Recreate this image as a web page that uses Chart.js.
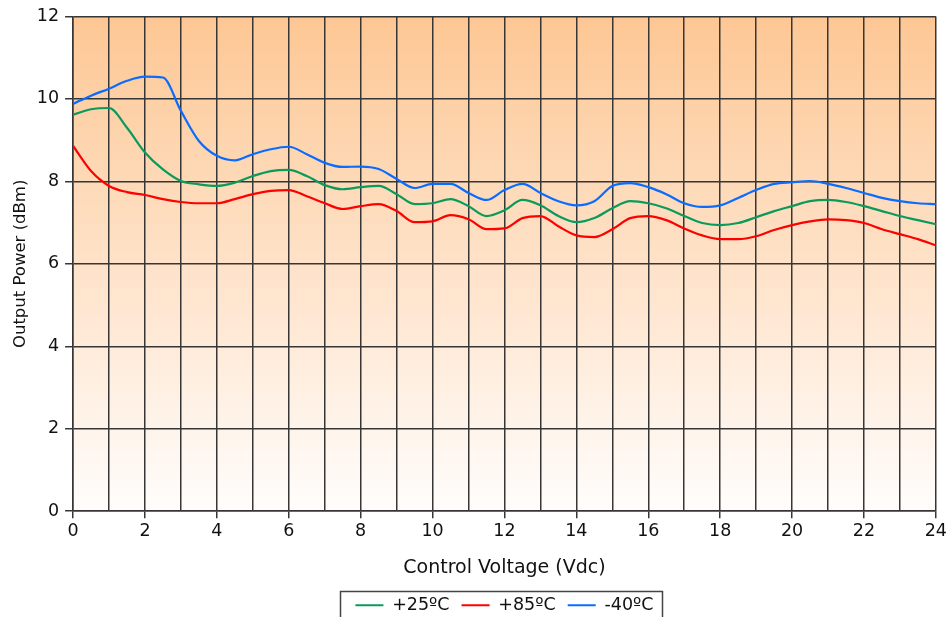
<!DOCTYPE html>
<html>
<head>
<meta charset="utf-8">
<script src="https://cdn.jsdelivr.net/npm/chart.js@4/dist/chart.umd.min.js"></script>
<style>
  html, body { margin: 0; padding: 0; background: #fff; }
  #wrap { width: 950px; height: 617px; }
</style>
</head>
<body>
<div id="wrap"><canvas id="myChart" width="950" height="617"></canvas></div>
<script>
// Control voltage samples (Vdc)
const volts = [0, 0.5, 1, 1.5, 2, 2.5, 3, 3.5, 4, 4.5, 5, 5.5, 6, 6.5, 7, 7.5, 8, 8.5, 9, 9.5, 10, 10.5, 11, 11.5, 12,
  12.5, 13, 13.5, 14, 14.5, 15, 15.5, 16, 16.5, 17, 17.5, 18, 18.5, 19, 19.5, 20, 20.5, 21, 21.5, 22, 22.5, 23, 23.5, 24];

// Output power (dBm) per temperature
const p25 = [9.62, 9.75, 9.78, 9.30, 8.70, 8.29, 8.01, 7.93, 7.89, 7.97, 8.13, 8.25, 8.28, 8.13, 7.91, 7.81, 7.86, 7.89, 7.69, 7.45, 7.47,
  7.57, 7.40, 7.16, 7.30, 7.55, 7.42, 7.16, 7.01, 7.11, 7.35, 7.52, 7.47, 7.35, 7.16, 6.99, 6.94, 6.99, 7.13, 7.28, 7.40,
  7.52, 7.55, 7.50, 7.40, 7.28, 7.16, 7.06, 6.96];
const p85 = [8.86, 8.25, 7.89, 7.74, 7.67, 7.57, 7.50, 7.47, 7.47, 7.57, 7.69, 7.77, 7.79, 7.64, 7.47, 7.33, 7.40, 7.45, 7.28, 7.01, 7.03,
  7.18, 7.08, 6.84, 6.86, 7.11, 7.16, 6.91, 6.69, 6.65, 6.84, 7.11, 7.16, 7.06, 6.86, 6.69, 6.60, 6.60, 6.67, 6.82, 6.94,
  7.03, 7.08, 7.06, 6.99, 6.84, 6.72, 6.60, 6.45];
const pm40 = [9.88, 10.08, 10.25, 10.44, 10.54, 10.52, 9.71, 8.98, 8.62, 8.51, 8.66, 8.78, 8.84, 8.66, 8.45, 8.35, 8.36, 8.30, 8.06, 7.84, 7.94,
  7.94, 7.72, 7.55, 7.79, 7.94, 7.72, 7.52, 7.42, 7.52, 7.89, 7.96, 7.86, 7.69, 7.47, 7.38, 7.42, 7.60, 7.79, 7.94, 7.98,
  8.01, 7.94, 7.84, 7.72, 7.60, 7.52, 7.47, 7.45];

const seriesNames = ['+25ºC', '+85ºC', '-40ºC'];
const seriesColors = ['#0a9a5c', '#ff0000', '#0a6cff'];

const toPoints = arr => arr.map((v, i) => ({ x: volts[i], y: v }));

const fam = 'DejaVu Sans';
const gridColor = '#363636';

// orange-to-white fill behind the plot
const plotBackground = {
  id: 'plotBackground',
  beforeDraw(chart) {
    const { ctx, chartArea: a } = chart;
    const g = ctx.createLinearGradient(0, a.top, 0, a.bottom);
    g.addColorStop(0, 'rgb(253,199,148)');
    g.addColorStop(1, 'rgb(255,253,252)');
    ctx.save();
    ctx.fillStyle = g;
    ctx.fillRect(a.left, a.top, a.right - a.left, a.bottom - a.top);
    ctx.restore();
  }
};

// frame around the legend
const legendFrame = {
  id: 'legendFrame',
  afterDraw(chart) {
    const lg = chart.legend;
    if (!lg || !lg.legendHitBoxes.length) return;
    const hb = lg.legendHitBoxes;
    const first = hb[0], last = hb[hb.length - 1];
    const left = Math.round(first.left - 15) + 0.5;
    const right = Math.round(last.left + last.width + 8) + 0.5;
    const top = Math.round(first.top + first.height / 2 - 14) + 0.5;
    const ctx = chart.ctx;
    ctx.save();
    ctx.strokeStyle = '#444';
    ctx.lineWidth = 1.5;
    ctx.strokeRect(left, top, right - left, 40);
    ctx.restore();
  }
};

new Chart(document.getElementById('myChart').getContext('2d'), {
  type: 'line',
  data: {
    datasets: seriesNames.map((name, i) => ({
      label: name,
      data: toPoints([p25, p85, pm40][i]),
      borderColor: seriesColors[i],
      backgroundColor: seriesColors[i],
      borderWidth: 2.2
    }))
  },
  options: {
    responsive: false,
    animation: false,
    layout: { padding: { top: 0, right: 0, left: 11, bottom: -7 } },
    elements: {
      line: { tension: 0.4, cubicInterpolationMode: 'monotone' },
      point: { radius: 0 }
    },
    plugins: {
      tooltip: { enabled: false },
      legend: {
        position: 'bottom',
        fullSize: false,
        labels: {
          font: { family: fam, size: 17.5 },
          color: '#111',
          usePointStyle: true,
          pointStyle: 'line',
          pointStyleWidth: 28,
          padding: 12,
          boxHeight: 2
        }
      }
    },
    scales: {
      x: {
        type: 'linear',
        min: 0,
        max: 24,
        title: { display: true, text: 'Control Voltage (Vdc)', font: { family: fam, size: 19 }, color: '#111', padding: { top: 11.5, bottom: 5 } },
        ticks: {
          stepSize: 1,
          autoSkip: false,
          maxRotation: 0,
          padding: 3,
          font: { family: fam, size: 17.5 },
          color: '#111',
          callback: v => (v % 2 === 0 ? String(v) : '')
        },
        grid: {
          color: gridColor,
          lineWidth: 1.5,
          tickLength: 7,
          tickColor: ctx => (ctx.tick && ctx.tick.value % 2 === 0 ? gridColor : 'rgba(0,0,0,0)')
        },
        border: { color: gridColor, width: 1.5 }
      },
      y: {
        min: 0,
        max: 12,
        title: { display: true, text: 'Output Power (dBm)', font: { family: fam, size: 16.5 }, color: '#111', padding: { top: 0, bottom: 0 } },
        ticks: { stepSize: 2, font: { family: fam, size: 17.5 }, color: '#111', padding: 6 },
        grid: { color: gridColor, lineWidth: 1.5, tickLength: 8 },
        border: { color: gridColor, width: 1.5 }
      }
    }
  },
  plugins: [plotBackground, legendFrame]
});
</script>
</body>
</html>
